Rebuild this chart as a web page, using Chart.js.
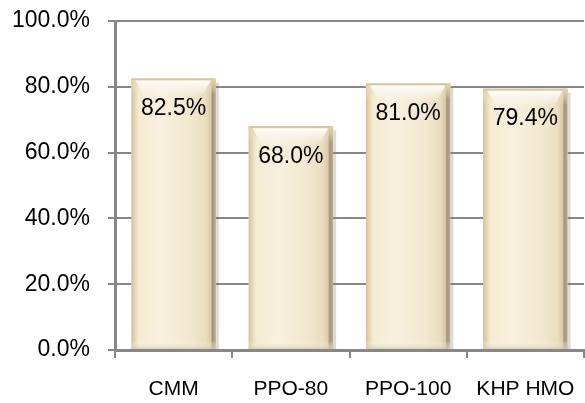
<!DOCTYPE html>
<html>
<head>
<meta charset="utf-8">
<script src="https://cdn.jsdelivr.net/npm/chart.js@4"></script>
<style>
  html, body { margin: 0; padding: 0; background: #ffffff; }
  #wrap { width: 585px; height: 403px; position: relative; }
</style>
</head>
<body>
<div id="wrap"><canvas id="c" width="585" height="403"></canvas></div>
<script>
// Plan categories and their rates (percent)
const categories = ['CMM', 'PPO-80', 'PPO-100', 'KHP HMO'];
const rates = [82.5, 68.0, 81.0, 79.4];
const yMin = 0;
const yMax = 100;
const yStep = 20;

const AXIS_GREY = '#878787';
const FONT = '"Liberation Sans", Arial, sans-serif';

// Drop shadow behind each bar
const barShadow = {
  id: 'barShadow',
  beforeDatasetsDraw(chart) {
    const ctx = chart.ctx;
    chart.getDatasetMeta(0).data.forEach(bar => {
      const p = bar.getProps(['x', 'y', 'base', 'width'], true);
      const x1 = p.x + p.width / 2;
      ctx.save();
      ctx.fillStyle = 'rgba(120,110,90,0.25)';
      ctx.fillRect(x1, p.y + 4, 3, p.base - p.y - 4);
      ctx.restore();
    });
  }
};

// Cream bevelled finish and the value label inside each bar
const barFinish = {
  id: 'barFinish',
  afterDatasetsDraw(chart) {
    const ctx = chart.ctx;
    const meta = chart.getDatasetMeta(0);
    meta.data.forEach((bar, i) => {
      const p = bar.getProps(['x', 'y', 'base', 'width'], true);
      const x0 = p.x - p.width / 2, x1 = p.x + p.width / 2;
      const top = p.y, bot = p.base, w = p.width, h = bot - top;
      ctx.save();
      // body: horizontal shading
      const g = ctx.createLinearGradient(x0, 0, x1, 0);
      g.addColorStop(0.00, '#D2BF95');
      g.addColorStop(0.04, '#E6D7B3');
      g.addColorStop(0.09, '#F5ECD4');
      g.addColorStop(0.35, '#F7F0DD');
      g.addColorStop(0.70, '#F2E8CF');
      g.addColorStop(0.88, '#EADDBF');
      g.addColorStop(0.94, '#D9CAA7');
      g.addColorStop(0.96, '#A39479');
      g.addColorStop(1.00, '#B8AC94');
      ctx.fillStyle = g;
      ctx.fillRect(x0, top, w, h);

      // top bevel band
      const tb = ctx.createLinearGradient(0, top, 0, top + 16);
      tb.addColorStop(0, '#E3D2A9');
      tb.addColorStop(1, 'rgba(243,233,208,0)');
      ctx.fillStyle = tb;
      ctx.fillRect(x0, top, w, 16);

      // white highlight on the bevel
      const hl = ctx.createLinearGradient(0, top + 2, 0, top + 18);
      hl.addColorStop(0, 'rgba(255,255,255,0.98)');
      hl.addColorStop(1, 'rgba(255,255,255,0)');
      ctx.fillStyle = hl;
      ctx.beginPath();
      ctx.moveTo(x0 + 4, top + 2);
      ctx.lineTo(x1 - 5, top + 2);
      ctx.lineTo(x1 - 14, top + 18);
      ctx.lineTo(x0 + 13, top + 18);
      ctx.closePath();
      ctx.fill();

      // thin outline on top edge
      ctx.fillStyle = '#D6C49A';
      ctx.fillRect(x0, top, w - 3, 1.5);

      // bottom bevel
      const bb = ctx.createLinearGradient(0, bot - 8, 0, bot);
      bb.addColorStop(0, 'rgba(255,255,255,0)');
      bb.addColorStop(1, 'rgba(214,200,165,0.8)');
      ctx.fillStyle = bb;
      ctx.fillRect(x0, bot - 8, w, 8);

      // value label
      ctx.fillStyle = '#000000';
      ctx.font = '23px ' + FONT;
      ctx.textAlign = 'center';
      ctx.textBaseline = 'middle';
      ctx.fillText(rates[i].toFixed(1) + '%', p.x, top + 30);
      ctx.restore();
    });
  }
};

new Chart(document.getElementById('c'), {
  type: 'bar',
  data: {
    labels: categories,
    datasets: [{
      data: rates,
      backgroundColor: '#F3EAD2',
      borderWidth: 0,
      barPercentage: 0.72,
      categoryPercentage: 1.0
    }]
  },
  options: {
    responsive: false,
    animation: false,
    devicePixelRatio: 1,
    layout: { padding: { top: 21, right: 1, left: 0, bottom: 0 } },
    plugins: {
      legend: { display: false },
      tooltip: { enabled: false }
    },
    scales: {
      x: {
        grid: {
          offset: true,
          drawOnChartArea: false,
          drawTicks: true,
          tickLength: 8,
          color: AXIS_GREY,
          lineWidth: 2
        },
        border: { display: true, color: AXIS_GREY, width: 3 },
        ticks: {
          color: '#000000',
          font: { family: FONT, size: 21 },
          padding: 19,
          maxRotation: 0,
          autoSkip: false
        },
        afterFit(scale) {
          scale.height = 53;
          scale.paddingLeft = 0;
          scale.paddingRight = 0;
        }
      },
      y: {
        min: yMin,
        max: yMax,
        grid: {
          color: AXIS_GREY,
          lineWidth: 2,
          tickLength: 7,
          drawTicks: true
        },
        border: { display: true, color: AXIS_GREY, width: 3 },
        ticks: {
          stepSize: yStep,
          color: '#000000',
          font: { family: FONT, size: 23 },
          padding: 18,
          callback: v => Number(v).toFixed(1) + '%'
        },
        afterFit(scale) {
          scale.width = 115;
          scale.paddingTop = 0;
          scale.paddingBottom = 0;
        }
      }
    }
  },
  plugins: [barShadow, barFinish]
});
</script>
</body>
</html>
